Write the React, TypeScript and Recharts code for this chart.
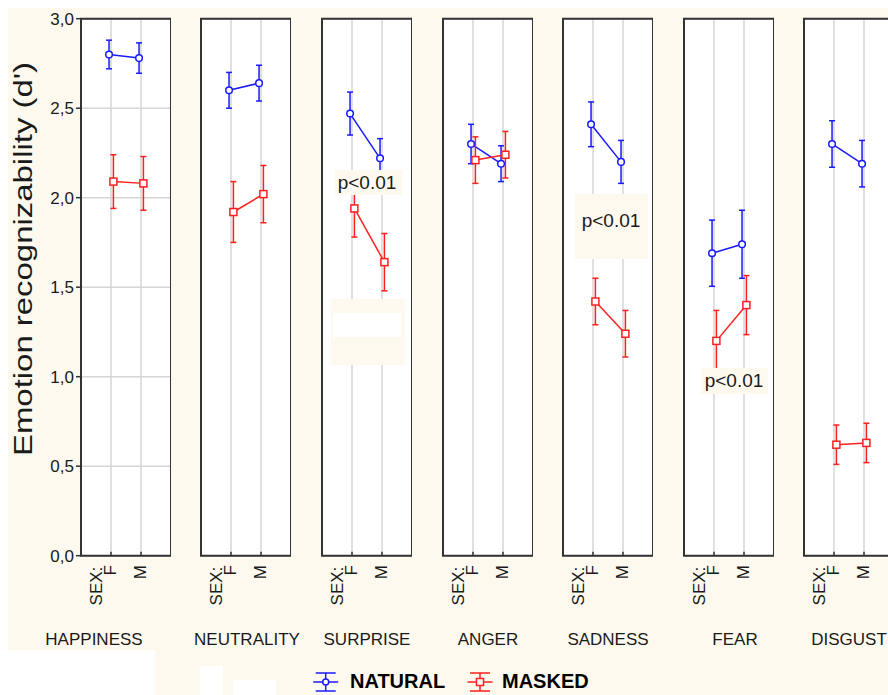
import React from "react";
import { CartesianGrid, ErrorBar, Line, LineChart, ReferenceArea, XAxis, YAxis } from "recharts";

const emotions = ["HAPPINESS", "NEUTRALITY", "SURPRISE", "ANGER", "SADNESS", "FEAR", "DISGUST"];
const titleCenters = [94, 247, 367, 488, 608, 735, 849];

// d' by sex of the poser (F, M)
const naturalF = [2.8, 2.6, 2.47, 2.3, 2.41, 1.69, 2.3];
const naturalM = [2.78, 2.64, 2.22, 2.19, 2.2, 1.74, 2.19];
const naturalErrF = [0.08, 0.1, 0.12, 0.11, 0.125, 0.185, 0.13];
const naturalErrM = [0.085, 0.1, 0.11, 0.1, 0.12, 0.19, 0.13];

const maskedF = [2.09, 1.92, 1.94, 2.21, 1.42, 1.2, 0.62];
const maskedM = [2.08, 2.02, 1.64, 2.24, 1.24, 1.4, 0.63];
const maskedErrF = [0.15, 0.17, 0.16, 0.13, 0.13, 0.17, 0.11];
const maskedErrM = [0.15, 0.16, 0.16, 0.13, 0.13, 0.165, 0.11];

const sexLabels = ["F", "M"];
const yTicks = [0, 0.5, 1, 1.5, 2, 2.5, 3];
const rightTicks = [1, 2, 3, 4, 5, 6];

const BLUE = "#1a1aff";
const RED = "#ff1f1f";
const CREAM = "#fdf9ee";
const FRAME = "#333";
const TEXT = "#1a1a1a";
const FONT = "'Liberation Sans', Arial, sans-serif";

const PANEL_LEFT = 80.7;
const PANEL_STEP = 120.6;
const PANEL_W = 90;
const PANEL_TOP = 18.7;
const PANEL_H = 537;
const AXIS_W = 40;

const SquareDot = (props: any) => {
  const { cx, cy, index } = props;
  if (cx == null || cy == null) return null;
  return (
    <rect key={`sq-${index}`} x={cx - 3.5} y={cy - 3.5} width={7} height={7} fill="#fff" stroke={RED} strokeWidth={1.5} />
  );
};

const SexTick = (props: any) => {
  const { x, y, payload } = props;
  const label = sexLabels[payload.value - 1];
  return (
    <g>
      <line x1={x} x2={x} y1={y} y2={y - 4} stroke={FRAME} strokeWidth={1.5} />
      <text transform={`translate(${x + 5},${y + 9.5}) rotate(-90)`} textAnchor="end" fontSize={17} fill={TEXT} fontFamily={FONT}>
        {label}
      </text>
      {payload.value === 1 && (
        <text transform={`translate(${x - 9},${y + 11}) rotate(-90)`} textAnchor="end" fontSize={17} fill={TEXT} fontFamily={FONT}>
          SEX:
        </text>
      )}
    </g>
  );
};

function Panel({ i }: { i: number }) {
  const natural = [
    { x: 1 - 0.065, y: naturalF[i], e: naturalErrF[i] },
    { x: 2 - 0.065, y: naturalM[i], e: naturalErrM[i] },
  ];
  const masked = [
    { x: 1 + 0.08, y: maskedF[i], e: maskedErrF[i] },
    { x: 2 + 0.08, y: maskedM[i], e: maskedErrM[i] },
  ];
  const left = PANEL_LEFT + PANEL_STEP * i - AXIS_W;
  return (
    <div style={{ position: "absolute", left, top: 0 }}>
      <LineChart width={AXIS_W + PANEL_W} height={PANEL_TOP + PANEL_H + 60} margin={{ top: PANEL_TOP, right: 0, bottom: 0, left: 0 }}>
        <CartesianGrid fill="#fff" stroke="#d6d6d6" strokeWidth={1.5} />
        <XAxis
          type="number"
          dataKey="x"
          domain={[0, 3]}
          ticks={[1, 2]}
          allowDataOverflow
          height={60}
          axisLine={false}
          tickLine={false}
          tickSize={0}
          tickMargin={0}
          tick={<SexTick />}
        />
        <YAxis
          type="number"
          domain={[0, 3]}
          ticks={yTicks}
          allowDataOverflow
          width={AXIS_W}
          axisLine={false}
          tickSize={5}
          tickMargin={2}
          tickLine={{ stroke: FRAME, strokeWidth: 1.5 }}
          tick={i === 0 ? { fontSize: 17, fill: TEXT, fontFamily: FONT } : false}
          tickFormatter={(v: number) => v.toFixed(1).replace(".", ",")}
        />
        <YAxis
          yAxisId="r"
          orientation="right"
          mirror
          type="number"
          domain={[0, 7]}
          ticks={rightTicks}
          allowDataOverflow
          axisLine={false}
          tickSize={4}
          tickLine={{ stroke: FRAME, strokeWidth: 1.5 }}
          tick={false}
        />
        <ReferenceArea x1={0} x2={3} y1={0} y2={3} fill="none" stroke={FRAME} strokeWidth={2} />
        <Line
          data={natural}
          dataKey="y"
          stroke={BLUE}
          strokeWidth={1.5}
          dot={{ r: 3.3, fill: "#fff", stroke: BLUE, strokeWidth: 1.5 }}
          isAnimationActive={false}
        >
          <ErrorBar dataKey="e" direction="y" width={3} stroke={BLUE} strokeWidth={1.5} />
        </Line>
        <Line data={masked} dataKey="y" stroke={RED} strokeWidth={1.5} dot={<SquareDot />} isAnimationActive={false}>
          <ErrorBar dataKey="e" direction="y" width={3} stroke={RED} strokeWidth={1.5} />
        </Line>
      </LineChart>
    </div>
  );
}

function LegendIcon({ cx, color, square }: { cx: number; color: string; square?: boolean }) {
  const cy = 682;
  return (
    <g stroke={color} strokeWidth={1.5} fill="#fff">
      <line x1={cx - 10} x2={cx + 10} y1={cy - 9} y2={cy - 9} />
      <line x1={cx - 10} x2={cx + 10} y1={cy + 9} y2={cy + 9} />
      <line x1={cx} x2={cx} y1={cy - 9} y2={cy + 9} />
      <line x1={cx - 12.5} x2={cx + 12.5} y1={cy} y2={cy} />
      {square ? <rect x={cx - 3.5} y={cy - 3.5} width={7} height={7} /> : <circle cx={cx} cy={cy} r={3} />}
    </g>
  );
}

const pNotes = [
  { box: [335, 170, 67, 25], cx: 367, base: 189 },
  { box: [575, 194, 73, 65], cx: 611, base: 227 },
  { box: [701, 368, 67, 26], cx: 734, base: 387 },
];

export default function App() {
  return (
    <div
      style={{
        position: "absolute",
        left: 0,
        top: 0,
        width: 888,
        height: 695,
        overflow: "hidden",
        background: "#fff",
        fontFamily: FONT,
      }}
    >
      <div style={{ position: "absolute", left: 8, top: 8, width: 880, height: 642, background: CREAM }} />
      <div style={{ position: "absolute", left: 155, top: 650, width: 733, height: 45, background: CREAM }} />
      <div style={{ position: "absolute", left: 200, top: 666, width: 23, height: 29, background: "#fff" }} />
      <div style={{ position: "absolute", left: 233, top: 680, width: 43, height: 15, background: "#fff" }} />

      {emotions.map((_, i) => (
        <Panel key={i} i={i} />
      ))}

      <svg width={888} height={695} style={{ position: "absolute", left: 0, top: 0, pointerEvents: "none" }}>
        <text
          transform="translate(31.5,259) rotate(-90)"
          textAnchor="middle"
          fontSize={25}
          fill={TEXT}
          textLength={394}
          lengthAdjust="spacingAndGlyphs"
        >
          Emotion recognizability (d')
        </text>

        {pNotes.map((n, k) => (
          <g key={k}>
            <rect x={n.box[0]} y={n.box[1]} width={n.box[2]} height={n.box[3]} fill={CREAM} />
            <text x={n.cx} y={n.base} textAnchor="middle" fontSize={19} fill={TEXT}>
              p&lt;0.01
            </text>
          </g>
        ))}
        <rect x={331} y={299} width={74} height={66} fill={CREAM} />
        <rect x={333} y={313} width={68} height={24} fill="#fff" />

        {emotions.map((name, i) => (
          <text key={name} x={titleCenters[i]} y={645} textAnchor="middle" fontSize={17} fill={TEXT}>
            {name}
          </text>
        ))}

        <LegendIcon cx={325.7} color={BLUE} />
        <text x={350} y={688} fontSize={20} fontWeight="bold" fill="#000">
          NATURAL
        </text>
        <LegendIcon cx={480} color={RED} square />
        <text x={502} y={688} fontSize={20} fontWeight="bold" fill="#000">
          MASKED
        </text>
      </svg>
    </div>
  );
}
